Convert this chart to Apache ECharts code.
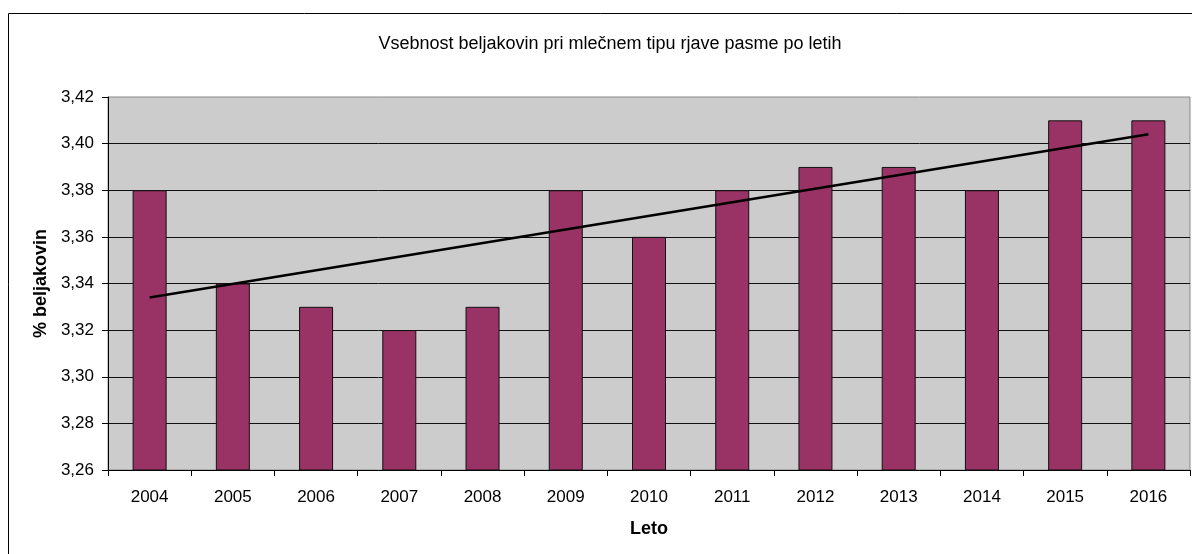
<!DOCTYPE html>
<html>
<head>
<meta charset="utf-8">
<script src="https://cdn.jsdelivr.net/npm/echarts@6/dist/echarts.min.js"></script>
<style>html,body{margin:0;padding:0;background:#fff;}#c{width:1192px;height:554px;}</style>
</head>
<body>
<div id="c"></div>
<script>
const years = ['2004','2005','2006','2007','2008','2009','2010','2011','2012','2013','2014','2015','2016'];
const protein = [3.38,3.34,3.33,3.32,3.33,3.38,3.36,3.38,3.39,3.39,3.38,3.41,3.41];
const trendYears = ['2004','2016'];
const trendValues = [3.334,3.404];
const titleText = 'Vsebnost beljakovin pri mlečnem tipu rjave pasme po letih';
const yName = '% beljakovin';
const xName = 'Leto';

const chart = echarts.init(document.getElementById('c'));
const font = '"Liberation Sans", Arial, sans-serif';
chart.setOption({
  animation: false,
  textStyle: {fontFamily: font},
  title: {
    text: titleText, left: 605, top: 30, textAlign: 'center',
    textStyle: {fontFamily: font, fontSize: 18, fontWeight: 'normal', color: '#000'}
  },
  graphic: [{
    type: 'rect', position: [0, 0], shape: {x: 8.5, y: 13.5, width: 1200, height: 600},
    style: {fill: null, stroke: '#000', lineWidth: 1}, silent: true, z: -1
  }],
  grid: {
    left: 108, top: 97, right: 2, bottom: 84, show: true,
    backgroundColor: '#cccccc', borderColor: '#888', borderWidth: 1
  },
  xAxis: {
    type: 'category', data: years,
    name: xName, nameLocation: 'middle', nameGap: 50,
    nameTextStyle: {fontFamily: font, fontSize: 18, fontWeight: 'bold', color: '#000'},
    axisLine: {lineStyle: {color: '#000', width: 1}},
    axisTick: {show: true, length: 6, lineStyle: {color: '#000'}},
    axisLabel: {fontFamily: font, fontSize: 17, color: '#000', margin: 19}
  },
  yAxis: {
    type: 'value', min: 3.26, max: 3.42, interval: 0.02,
    name: yName, nameLocation: 'middle', nameGap: 58, nameRotate: 90,
    nameTextStyle: {fontFamily: font, fontSize: 18, fontWeight: 'bold', color: '#000'},
    axisLine: {show: true, lineStyle: {color: '#000', width: 1}},
    axisTick: {show: true, length: 6, lineStyle: {color: '#000'}},
    axisLabel: {fontFamily: font, fontSize: 17, color: '#000', margin: 14,
      formatter: v => v.toFixed(2).replace('.', ',')},
    splitLine: {show: true, showMinLine: false, showMaxLine: false, lineStyle: {color: '#111', width: 1}}
  },
  series: [{
    type: 'bar', data: protein, barWidth: 34,
    itemStyle: {color: '#993366', borderColor: '#111', borderWidth: 1}
  }, {
    type: 'line', data: trendYears.map((y, i) => [y, trendValues[i]]),
    symbol: 'none', lineStyle: {color: '#000', width: 2.5}, z: 5
  }]
});
</script>
</body>
</html>
